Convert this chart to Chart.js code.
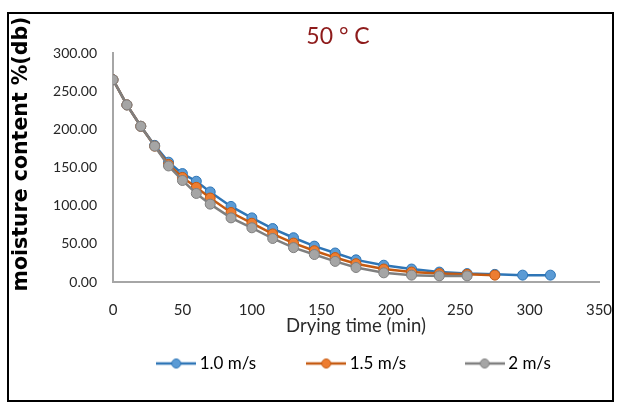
<!DOCTYPE html>
<html>
<head>
<meta charset="utf-8">
<script src="https://cdn.jsdelivr.net/npm/chart.js@4.4.1/dist/chart.umd.min.js"></script>
<style>
  html, body { margin: 0; padding: 0; background: #fff; }
  #wrap { position: relative; width: 621px; height: 408px; }
  #frame { position: absolute; left: 7px; top: 12px; width: 607px; height: 390px;
           box-sizing: border-box; border: 2px solid #000; pointer-events: none; }
</style>
</head>
<body>
<div id="wrap">
  <canvas id="myChart" width="621" height="408"></canvas>
  <div id="frame"></div>
</div>
<script>
  // drying time (min) - shared x values, series just stop at different points
  var dryingTime = [0, 10, 20, 30, 40, 50, 60, 70, 85, 100, 115, 130, 145, 160, 175, 195, 215, 235, 255, 275, 295, 315];
  var mc10 = [265, 232, 204, 179, 157, 142, 132, 118, 99, 84, 70, 58, 47, 38, 29, 22, 17, 13, 11, 10, 9, 9];
  var mc15 = [265, 232, 204, 178, 154, 137, 124, 110, 91, 77, 63, 51, 41, 32, 24, 17, 13, 11, 10, 9];
  var mc20 = [265, 232, 204, 178, 152, 133, 116, 102, 84, 71, 57, 45, 36, 27, 19, 12, 9, 8, 8];
  var seriesNames = ["1.0 m/s", "1.5 m/s", "2 m/s"];
  var lineColors = ["#2E75B6", "#C55A11", "#7F7F7F"];
  var markerColors = ["#5B9BD5", "#ED7D31", "#A5A5A5"];
  var xTicks = [0, 50, 100, 150, 200, 250, 300, 350];
  var yTicks = [0, 50, 100, 150, 200, 250, 300];

  const FONT = "Lato";

  function toPoints(vals) {
    return vals.map((v, i) => ({ x: dryingTime[i], y: v }));
  }

  // little line + circle picture for the legend, like excel
  function legendSymbol(i) {
    const c = document.createElement("canvas");
    c.width = 40; c.height = 14;
    const g = c.getContext("2d");
    g.strokeStyle = lineColors[i];
    g.lineWidth = 2.5;
    g.beginPath(); g.moveTo(0, 7); g.lineTo(40, 7); g.stroke();
    g.beginPath(); g.arc(20, 7, 4.5, 0, Math.PI * 2);
    g.fillStyle = markerColors[i]; g.fill();
    g.lineWidth = 1; g.stroke();
    return c;
  }

  // gap after each legend entry (em spaces), excel spreads them a bit unevenly
  const legendGap = ["\u2003\u2003\u2003\u2003", "\u2003\u2003\u2003\u2003\u2002", ""];

  const allSeries = [mc10, mc15, mc20];
  const datasets = allSeries.map((vals, i) => ({
    label: seriesNames[i],
    data: toPoints(vals),
    borderColor: lineColors[i],
    backgroundColor: markerColors[i],
    pointBackgroundColor: markerColors[i],
    pointBorderColor: lineColors[i],
    pointBorderWidth: 1,
    pointRadius: 5,
    borderWidth: 2.5,
    tension: 0,
    order: 3 - i
  }));

  // heading and y title drawn by hand, they are not centred on the plot in the original
  const chartLabels = {
    id: "chartLabels",
    afterDraw(chart) {
      const ctx = chart.ctx;
      ctx.save();
      ctx.textAlign = "center";
      ctx.textBaseline = "middle";
      ctx.font = "23px " + FONT;
      ctx.fillStyle = "#8E1B1B";
      ctx.fillText("50 ° C", 338, 37);

      ctx.translate(22, 154);
      ctx.rotate(-Math.PI / 2);
      ctx.font = "bold 20.5px 'DejaVu Sans'";
      ctx.fillStyle = "#000";
      ctx.fillText("moisture content %(db)", 0, 0);
      ctx.restore();
    }
  };

  new Chart("myChart", {
    type: "line",
    data: { datasets: datasets },
    options: {
      responsive: false,
      animation: false,
      layout: { padding: { top: 53, left: 10, right: 22, bottom: 26 } },
      plugins: {
        title: { display: false },
        legend: {
          position: "bottom",
          fullSize: false,
          labels: {
            usePointStyle: true,
            pointStyleWidth: 30,
            padding: 4,
            color: "#222",
            font: { family: FONT, size: 17 },
            generateLabels(chart) {
              return chart.data.datasets.map((ds, i) => ({
                text: ds.label + legendGap[i],
                pointStyle: legendSymbol(i),
                fillStyle: markerColors[i],
                strokeStyle: lineColors[i],
                lineWidth: 0,
                datasetIndex: i
              }));
            }
          }
        },
        tooltip: { enabled: false }
      },
      scales: {
        x: {
          type: "linear",
          min: 0, max: 350,
          afterBuildTicks: (s) => { s.ticks = xTicks.map(v => ({ value: v })); },
          afterFit: (s) => { s.height = 69; s.paddingLeft = 0; s.paddingRight = 0; },
          grid: { display: false, drawTicks: false },
          border: { color: "#A6A6A6", width: 2 },
          ticks: { color: "#262626", font: { family: FONT, size: 15 }, padding: 19, maxRotation: 0 },
          title: {
            display: true,
            text: "Drying time (min)",
            color: "#2b2b2b",
            font: { family: FONT, size: 18.5 },
            padding: { top: 0, bottom: 14 }
          }
        },
        y: {
          min: 0, max: 300,
          afterBuildTicks: (s) => { s.ticks = yTicks.map(v => ({ value: v })); },
          afterFit: (s) => { s.width = 103; s.paddingTop = 0; s.paddingBottom = 0; },
          grid: { display: false, drawTicks: false },
          border: { color: "#A6A6A6", width: 2 },
          ticks: {
            color: "#262626",
            font: { family: FONT, size: 14 },
            padding: 16,
            callback: (v) => Number(v).toFixed(2)
          }
        }
      }
    },
    plugins: [chartLabels]
  });
</script>
</body>
</html>
